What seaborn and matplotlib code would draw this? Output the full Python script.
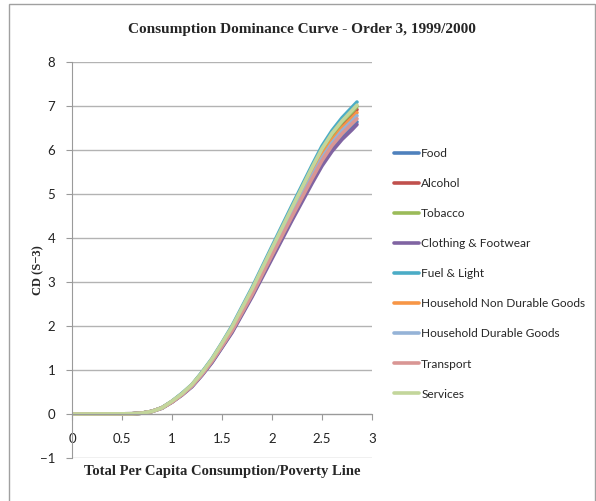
"""
Consumption dominance curves (order 3), 1999/2000
"""

import numpy as np
import pandas as pd
import matplotlib
matplotlib.use("Agg")
import matplotlib.pyplot as plt
from matplotlib.patches import Rectangle
import seaborn as sns

# x values: total per capita consumption / poverty line
ratio = [0, 0.6, 0.7, 0.8, 0.9, 1.0, 1.1, 1.2, 1.3, 1.4, 1.5, 1.6, 1.8,
         2.0, 2.2, 2.4, 2.5, 2.6, 2.7, 2.8, 2.85]

food = [0, 0.005, 0.02, 0.06, 0.14, 0.27, 0.44, 0.63, 0.89, 1.18, 1.52, 1.87, 2.69,
        3.57, 4.44, 5.30, 5.70, 6.03, 6.31, 6.53, 6.64]
alcohol = [0, 0.005, 0.02, 0.06, 0.14, 0.28, 0.45, 0.66, 0.93, 1.23, 1.59, 1.95, 2.80,
           3.72, 4.63, 5.51, 5.94, 6.28, 6.57, 6.80, 6.92]
tobacco = [0, 0.005, 0.02, 0.06, 0.14, 0.29, 0.46, 0.66, 0.94, 1.24, 1.60, 1.97, 2.83,
           3.75, 4.67, 5.57, 6.00, 6.34, 6.63, 6.86, 6.99]
clothing = [0, 0.005, 0.02, 0.06, 0.13, 0.27, 0.43, 0.62, 0.88, 1.17, 1.51, 1.85, 2.66,
            3.53, 4.40, 5.24, 5.64, 5.97, 6.24, 6.46, 6.58]
fuel = [0, 0.005, 0.02, 0.06, 0.145, 0.29, 0.47, 0.67, 0.95, 1.26, 1.62, 2.00, 2.87,
        3.81, 4.74, 5.65, 6.09, 6.44, 6.73, 6.97, 7.09]
hh_non_durable = [0, 0.005, 0.02, 0.06, 0.14, 0.28, 0.45, 0.65, 0.92, 1.22, 1.57, 1.93, 2.77,
                  3.68, 4.58, 5.46, 5.88, 6.22, 6.50, 6.73, 6.85]
hh_durable = [0, 0.005, 0.02, 0.06, 0.14, 0.28, 0.45, 0.64, 0.91, 1.21, 1.55, 1.91, 2.74,
              3.64, 4.53, 5.41, 5.82, 6.16, 6.44, 6.66, 6.78]
transport = [0, 0.005, 0.02, 0.06, 0.14, 0.27, 0.44, 0.64, 0.90, 1.20, 1.54, 1.89, 2.71,
             3.61, 4.49, 5.35, 5.76, 6.10, 6.37, 6.60, 6.71]
services = [0, 0.005, 0.02, 0.06, 0.14, 0.29, 0.46, 0.67, 0.94, 1.25, 1.61, 1.98, 2.84,
            3.77, 4.69, 5.60, 6.03, 6.38, 6.66, 6.90, 7.02]

categories = ["Food", "Alcohol", "Tobacco", "Clothing & Footwear", "Fuel & Light",
              "Household Non Durable Goods", "Household Durable Goods",
              "Transport", "Services"]
series = [food, alcohol, tobacco, clothing, fuel, hh_non_durable,
          hh_durable, transport, services]
colors = ["#4F81BD", "#C0504D", "#9BBB59", "#8064A2", "#4BACC6",
          "#F79646", "#95B3D7", "#D99694", "#C3D69B"]

# long format for seaborn
df = pd.concat([
    pd.DataFrame({"ratio": ratio, "cd": vals, "group": name})
    for name, vals in zip(categories, series)
], ignore_index=True)

sns.set_style("white")
plt.rcParams["font.family"] = ["Lato", "DejaVu Sans"]

fig = plt.figure(figsize=(5.96, 5.01), dpi=100)
ax = fig.add_axes([72 / 596, 1 - 458 / 501, 300 / 596, 396 / 501])

sns.lineplot(data=df, x="ratio", y="cd", hue="group", hue_order=categories,
             palette=colors, linewidth=2.6, ax=ax, legend=True, sort=False)

ax.set_xlim(0, 3)
ax.set_ylim(-1, 8)
ax.set_xticks(np.arange(0, 3.01, 0.5))
ax.set_xticklabels(["0", "0.5", "1", "1.5", "2", "2.5", "3"])
ax.set_yticks(range(-1, 9))

# gridlines like the spreadsheet chart
for yv in range(-1, 9):
    ax.axhline(yv, color="#b3b3b3", lw=1, zorder=0)

for side in ["top", "right"]:
    ax.spines[side].set_visible(False)
ax.spines["left"].set_color("#9a9a9a")
ax.spines["bottom"].set_color("#9a9a9a")
ax.spines["bottom"].set_position(("data", 0))

ax.tick_params(axis="both", which="both", direction="out", length=4,
               color="#9a9a9a", labelsize=9.5, labelcolor="#222222",
               left=True, bottom=True)
ax.tick_params(axis="x", pad=10)
ax.tick_params(axis="y", pad=8)

ax.set_xlabel("")
ax.set_ylabel("")
fig.text(222 / 596, 1 - 471 / 501, "Total Per Capita Consumption/Poverty Line",
         ha="center", va="center", family="Liberation Serif", fontweight="bold",
         fontsize=10.5)
fig.text(38 / 596, 1 - 270 / 501, "CD (S\u22123)", rotation=90,
         ha="center", va="center", family="Liberation Serif", fontweight="bold",
         fontsize=9)
fig.text(302 / 596, 1 - 30 / 501, "Consumption Dominance Curve - Order 3, 1999/2000",
         ha="center", va="center", family="Liberation Serif", fontweight="bold",
         fontsize=11)

# legend to the right of the plot area
handles, labels = ax.get_legend_handles_labels()
ax.get_legend().remove()
leg = fig.legend(handles, labels, loc="upper left",
                 bbox_to_anchor=(389 / 596, 1 - 143 / 501), frameon=False,
                 fontsize=8.6, handlelength=2.1, handletextpad=0.2,
                 labelspacing=1.6, borderaxespad=0)
for line in leg.get_lines():
    line.set_linewidth(2.6)

# outer chart border
fig.patches.append(Rectangle((9 / 596, -0.05), 586 / 596, 1.05 - 4 / 501,
                             transform=fig.transFigure, fill=False,
                             edgecolor="#a0a0a0", lw=1))

fig.savefig("out.png", dpi=100)
